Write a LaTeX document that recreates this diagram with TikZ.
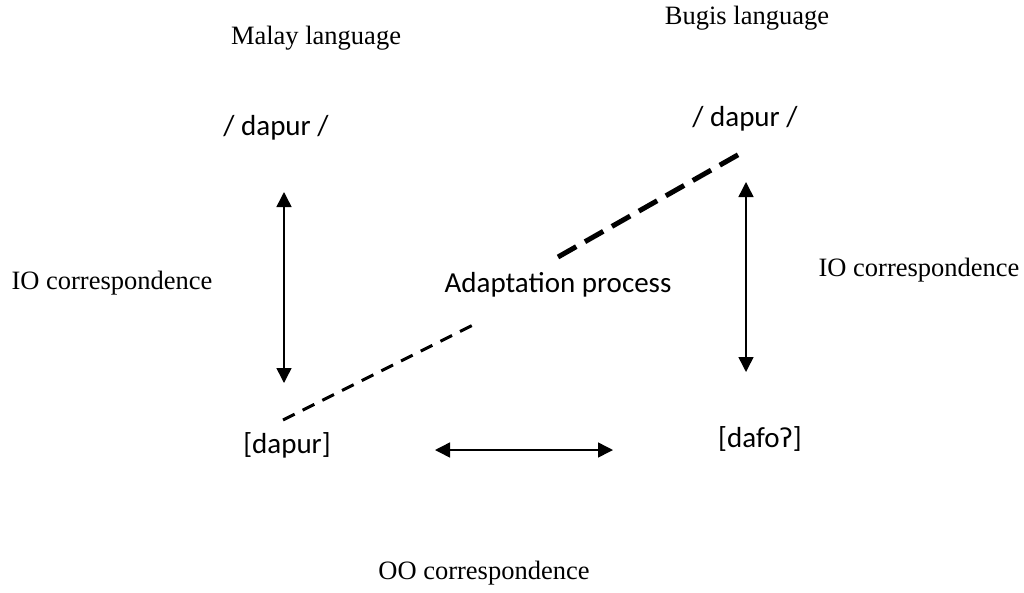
\documentclass[tikz,border=0pt]{standalone}
\usepackage{fontspec}
\setmainfont{Liberation Serif}
\newfontfamily\calib{Carlito}
\newfontfamily\ipafont{DejaVu Sans}
\usetikzlibrary{positioning,arrows.meta}

\begin{document}
\begin{tikzpicture}[x=1pt,y=-1pt,>={Triangle[length=15pt,width=15pt]},
  lang/.style={font=\fontsize{26.5}{31}\selectfont},
  form/.style={font=\calib\fontsize{29}{34}\selectfont},
  corr/.style={<->,line width=1.5pt}]
\useasboundingbox (0,0) rectangle (1024,592);
% levels and labels
\node[lang] (ML) at (316,38) {Malay language};
\node[lang] (BL) at (747,18) {Bugis language};
\node[form] (MI) at (276,128) {/ dapur /};
\node[form] (BI) at (745,119) {/ dapur /};
\node[form] (MO) at (287,445) {[dapur]};
\node[form] (BO) at (760,439) {[dafo{\ipafont\fontsize{26}{30}\selectfont ʔ}]};
\node[lang] (IOl) at (112,283) {IO correspondence};
\node[lang] (IOr) at (919,270) {IO correspondence};
\node[form] (AP) at (558,285) {Adaptation process};
\node[lang] (OO) at (484,573) {OO correspondence};
% connector ends
\coordinate (a1) at (284,192); \coordinate (a2) at (284,383);
\coordinate (b1) at (746,182); \coordinate (b2) at (746,372);
\coordinate (c1) at (435,450); \coordinate (c2) at (613,450);
\coordinate (d1) at (283,420); \coordinate (d2) at (477,323);
\coordinate (e1) at (558,257); \coordinate (e2) at (743,152);
\draw[corr] (a1) -- (a2);
\draw[corr] (b1) -- (b2);
\draw[corr] (c1) -- (c2);
\draw[line width=3pt,dash pattern=on 13pt off 9pt] (d1) -- (d2);
\draw[line width=5pt,dash pattern=on 21pt off 10pt] (e1) -- (e2);
\end{tikzpicture}
\end{document}
